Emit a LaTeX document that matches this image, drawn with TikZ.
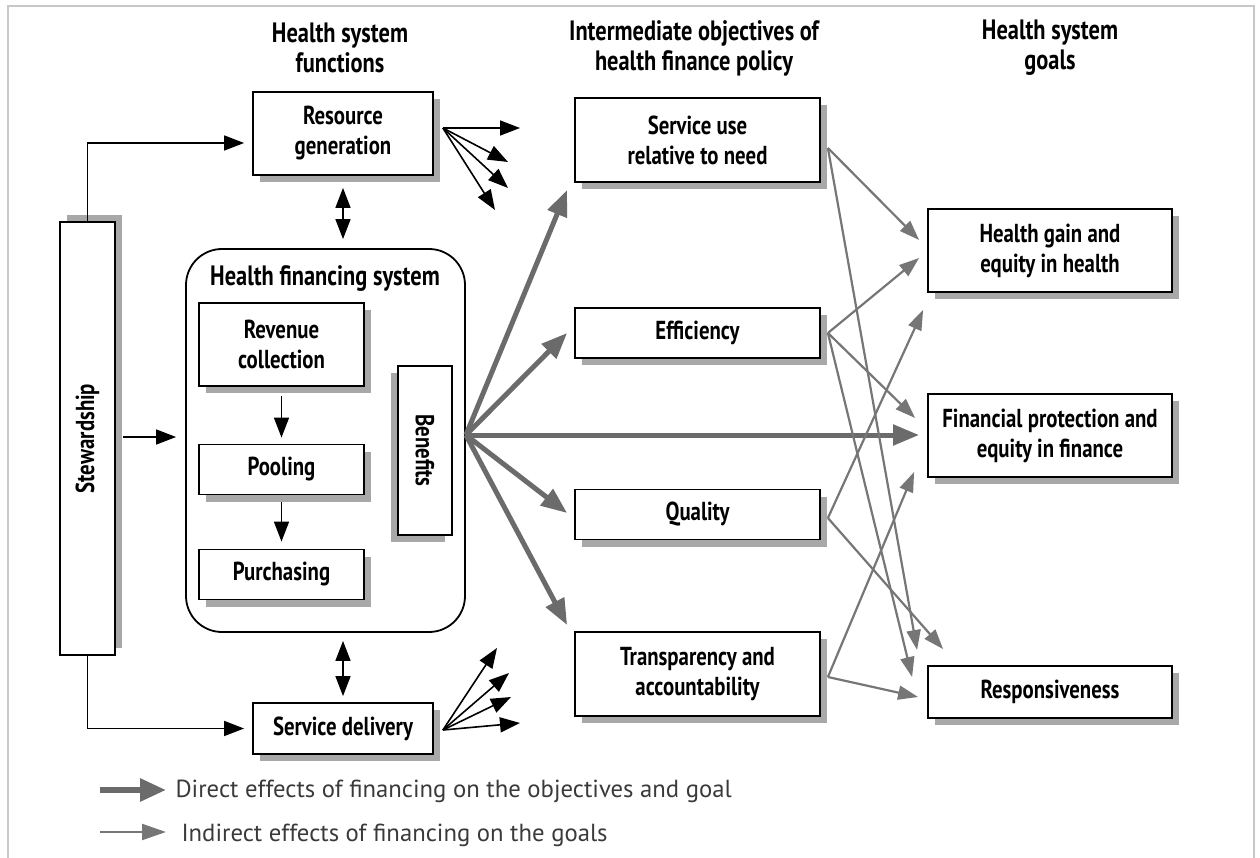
\documentclass[tikz,border=0pt]{standalone}
\usepackage{fontspec}
\setmainfont{PT Sans}
\newfontfamily\bxf[FakeStretch=0.8]{PT Sans}
\usetikzlibrary{arrows.meta,shadows,calc}
\definecolor{dirc}{HTML}{6B6B6B}
\definecolor{indc}{HTML}{767676}
\definecolor{shc}{HTML}{A8A8A8}
\definecolor{legc}{HTML}{3A3A3A}
\definecolor{framec}{HTML}{C8C8C8}
\tikzset{
  box/.style={draw=black, line width=1.8pt, fill=white, inner sep=0pt, align=center,
    font=\bxf\bfseries\fontsize{26}{30}\selectfont},
  shd/.style={drop shadow={shadow xshift=7pt, shadow yshift=-7pt, fill=shc, opacity=1}},
  hdr/.style={align=center, font=\bxf\bfseries\fontsize{28}{30}\selectfont},
  rtxt/.style={font=\bxf\bfseries\fontsize{26}{30}\selectfont},
  blk/.style={draw=black, line width=1.6pt, -{Triangle[length=20pt,width=15pt]}},
  dbl/.style={draw=black, line width=1.6pt, {Triangle[length=20pt,width=15pt]}-{Triangle[length=20pt,width=15pt]}},
  direct/.style={draw=dirc, line width=5pt, -{Triangle[length=26pt,width=20pt]}},
  indirect/.style={draw=indc, line width=2.2pt, -{Triangle[length=20pt,width=14pt]}},
  legtext/.style={anchor=west, text=legc, font=\fontsize{24.7}{28}\selectfont},
}
\begin{document}
\begin{tikzpicture}[x=1pt,y=-1pt]
\useasboundingbox (0,0) rectangle (1260,858);
\draw[framec, line width=1.5pt] (8,858) -- (8,6) -- (1254,6) -- (1254,858);

% headers
\node[hdr] (h1) at (340,48) {Health system\\functions};
\node[hdr] (h2) at (694,48) {Intermediate objectives of\\health finance policy};
\node[hdr] (h3) at (1050,48) {Health system\\goals};

% left column
\node[box, shd, minimum width=180pt, minimum height=83pt] (rg) at (343,133.5) {Resource\\generation};
\node[box, drop shadow={shadow xshift=7pt, shadow yshift=7pt, fill=shc, opacity=1}, minimum width=55pt, minimum height=433pt] (stew) at (87.5,438.5) {};
\node[rotate=90, rtxt] (stewt) at (stew.center) {Stewardship};
\node[draw=black, line width=1.8pt, rounded corners=36pt, minimum width=279pt, minimum height=383pt, inner sep=0pt] (hfs) at (325.5,440.5) {};
\node[hdr] (hfst) at (325,279) {Health financing system};
\node[box, shd, minimum width=165pt, minimum height=83pt] (rev) at (281.5,344.5) {Revenue\\collection};
\node[box, shd, minimum width=165pt, minimum height=50pt] (pool) at (281.5,469.5) {Pooling};
\node[box, shd, minimum width=165pt, minimum height=50pt] (purch) at (281.5,574.5) {Purchasing};
\node[box, drop shadow={shadow xshift=-7pt, shadow yshift=-7pt, fill=shc, opacity=1}, minimum width=54pt, minimum height=169pt] (ben) at (425,450.5) {};
\node[rotate=-90, rtxt] (bent) at (ben.center) {Benefits};
\node[box, shd, minimum width=180pt, minimum height=51pt] (sd) at (343,728.5) {Service delivery};

% intermediate objectives
\node[box, shd, minimum width=245pt, minimum height=84pt] (su) at (697.5,140) {Service use\\relative to need};
\node[box, shd, minimum width=245pt, minimum height=50pt] (eff) at (697.5,333) {Efficiency};
\node[box, shd, minimum width=245pt, minimum height=50pt] (qual) at (697.5,514.5) {Quality};
\node[box, shd, minimum width=245pt, minimum height=84pt] (trans) at (697.5,674) {Transparency and\\accountability};

% goals
\node[box, shd, minimum width=244pt, minimum height=83pt] (hg) at (1050,250.5) {Health gain and\\equity in health};
\node[box, shd, minimum width=244pt, minimum height=83pt] (fp) at (1050,435.5) {Financial protection and\\equity in finance};
\node[box, shd, minimum width=244pt, minimum height=52pt] (resp) at (1050,692) {Responsiveness};

% stewardship connectors
\draw[blk] (stew.north) |- ([shift={(-8,9.5)}]rg.west);
\draw[blk] (stew.south) |- ([xshift=-8pt]sd.west);
\draw[blk] ([shift={(7,-1.5)}]stew.east) -- ([shift={(-9,-3.5)}]hfs.west);
\draw[dbl] ([yshift=-12pt]rg.south) -- ([yshift=9pt]rg.south |- hfs.north);
\draw[dbl] ([yshift=-8pt]sd.north |- hfs.south) -- ([yshift=6pt]sd.north);
\draw[blk] ([yshift=-9pt]rev.south) -- ([yshift=6pt]pool.north);
\draw[blk] ([yshift=-7pt]pool.south) -- ([yshift=7pt]purch.north);

% fans
\coordinate (rgo) at ([shift={(9,-5.5)}]rg.east);
\coordinate (rf1) at (520,128);
\coordinate (rf2) at (508,162);
\coordinate (rf3) at (508,188);
\coordinate (rf4) at (495,210);
\foreach \t in {rf1,rf2,rf3,rf4} \draw[blk] (rgo) -- (\t);
\coordinate (sdo) at ([shift={(9,1.5)}]sd.east);
\coordinate (sf1) at (497,648);
\coordinate (sf2) at (509,673);
\coordinate (sf3) at (511,697);
\coordinate (sf4) at (520,723);
\foreach \t in {sf1,sf2,sf3,sf4} \draw[blk] (sdo) -- (\t);

% direct effects
\coordinate (bo) at ([shift={(0,-5.5)}]hfs.east);
\draw[direct] (bo) -- ([shift={(-7,50)}]su.west);
\draw[direct] (bo) -- ([shift={(-7,0)}]eff.west);
\draw[direct] (bo) -- ([shift={(-8,-0.5)}]fp.west);
\draw[direct] (bo) -- ([shift={(-7,-1.5)}]qual.west);
\draw[direct] (bo) -- ([shift={(-7,-49)}]trans.west);

% indirect effects
\draw[indirect] ([shift={(7,8)}]su.east) -- ([shift={(-8,-10.5)}]hg.west);
\draw[indirect] ([shift={(7,8)}]su.east) -- ([shift={(-10,-42)}]resp.west);
\draw[indirect] ([xshift=7pt]eff.east) -- ([shift={(-8,7.5)}]hg.west);
\draw[indirect] ([xshift=7pt]eff.east) -- ([shift={(-12,-17.5)}]fp.west);
\draw[indirect] ([xshift=7pt]eff.east) -- ([shift={(-15,-15)}]resp.west);
\draw[indirect] ([shift={(7,3.5)}]qual.east) -- ([shift={(-4,59.5)}]hg.west);
\draw[indirect] ([shift={(7,3.5)}]qual.east) -- ([shift={(16,-16)}]resp.north west);
\draw[indirect] ([shift={(7,3)}]trans.east) -- ([shift={(-13,36.5)}]fp.west);
\draw[indirect] ([shift={(7,3)}]trans.east) -- ([shift={(-9,5)}]resp.west);

% legend
\coordinate (l1a) at (100,790);
\coordinate (l1b) at (166,790);
\coordinate (l2a) at (100,832);
\coordinate (l2b) at (166,832);
\draw[draw=dirc, line width=6pt, -{Triangle[length=26pt,width=22pt]}] (l1a) -- (l1b);
\draw[draw=indc, line width=2.2pt, -{Triangle[length=24pt,width=16pt]}] (l2a) -- (l2b);
\node[legtext] (lt1) at (172,791) {Direct effects of financing on the objectives and goal};
\node[legtext] (lt2) at (178,835) {Indirect effects of financing on the goals};
\end{tikzpicture}
\end{document}
